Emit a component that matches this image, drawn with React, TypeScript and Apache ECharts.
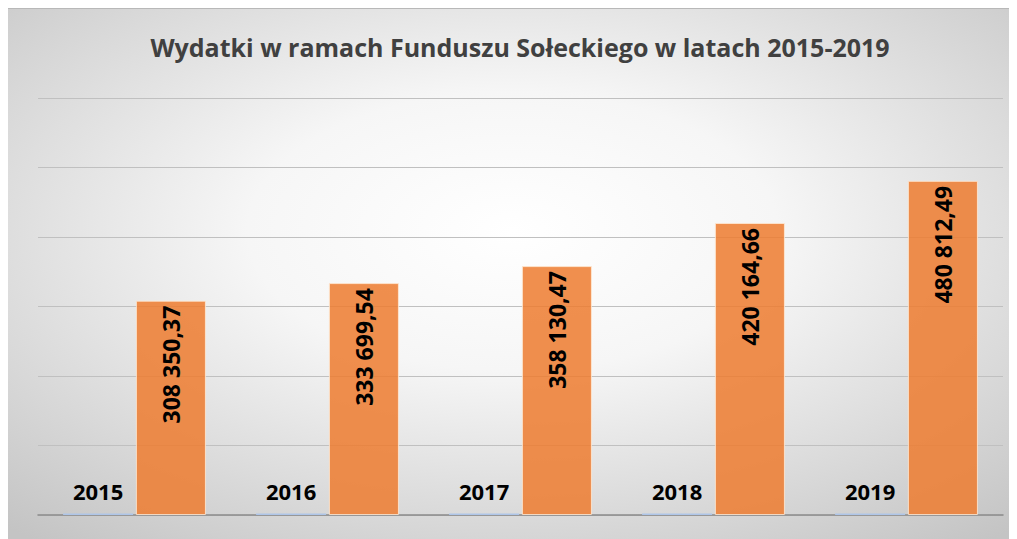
import React, { useEffect, useRef } from "react";
import * as echarts from "echarts";

const TITLE = "Wydatki w ramach Funduszu Sołeckiego w latach 2015-2019";
const categories = ["2015", "2016", "2017", "2018", "2019"];
const yearValues = [2015, 2016, 2017, 2018, 2019];
const amounts = [308350.37, 333699.54, 358130.47, 420164.66, 480812.49];
const yMax = 600000;
const yInterval = 100000;

function formatPl(v: number): string {
  const [i, d] = v.toFixed(2).split(".");
  return i.replace(/\B(?=(\d{3})+(?!\d))/g, " ") + "," + d;
}

export default function App() {
  const ref = useRef<HTMLDivElement>(null);
  useEffect(() => {
    document.documentElement.style.overflow = "hidden";
    const chart = echarts.init(ref.current!, undefined, { renderer: "svg" });
    const font = "'Open Sans', sans-serif";
    chart.setOption({
      animation: false,
      backgroundColor: {
        type: "radial",
        x: 0.5,
        y: 0.42,
        r: 0.75,
        colorStops: [
          { offset: 0, color: "#ffffff" },
          { offset: 0.35, color: "#f6f6f6" },
          { offset: 1, color: "#c4c4c4" },
        ],
      },
      graphic: [
        {
          type: "text",
          x: 512,
          y: 39,
          style: {
            text: TITLE,
            fill: "#404040",
            font: `bold 25px ${font}`,
            textAlign: "center",
            textVerticalAlign: "middle",
          },
        },
        {
          type: "line",
          shape: { x1: 0, y1: 0.5, x2: 1009, y2: 0.5 },
          style: { stroke: "#b8b8b8", lineWidth: 1 },
        },
      ],
      grid: { left: 30, right: 14, top: 90, bottom: 24 },
      xAxis: {
        type: "category",
        data: categories,
        axisLine: { lineStyle: { color: "#8a8a8a", width: 1.5 } },
        axisTick: { show: false },
        axisLabel: { show: false },
      },
      yAxis: {
        type: "value",
        min: 0,
        max: yMax,
        interval: yInterval,
        axisLabel: { show: false },
        axisLine: { show: false },
        axisTick: { show: false },
        splitLine: { lineStyle: { color: "#c0c0c0", width: 1 } },
      },
      series: [
        {
          type: "bar",
          name: "Rok",
          data: yearValues,
          barCategoryGap: "26%",
          barGap: "4%",
          itemStyle: { color: "#aec5e8" },
          label: {
            show: true,
            position: "top",
            distance: 12,
            color: "#000",
            fontFamily: "Open Sans",
            fontWeight: "bold",
            fontSize: 22,
          },
          z: 3,
        },
        {
          type: "bar",
          name: "Wydatki",
          data: amounts,
          barCategoryGap: "26%",
          barGap: "4%",
          itemStyle: {
            color: "rgba(237,125,49,0.86)",
            borderColor: "rgba(255,235,215,0.8)",
            borderWidth: 1,
          },
          label: {
            show: true,
            position: "insideTop",
            rotate: 90,
            align: "right",
            verticalAlign: "middle",
            distance: 5,
            color: "#000",
            fontFamily: "Open Sans",
            fontWeight: "bold",
            fontSize: 23,
            formatter: (p: any) => formatPl(p.value),
          },
          z: 3,
        },
      ],
    });
    return () => chart.dispose();
  }, []);
  return <div ref={ref} style={{ width: 1009, height: 531 }} />;
}
